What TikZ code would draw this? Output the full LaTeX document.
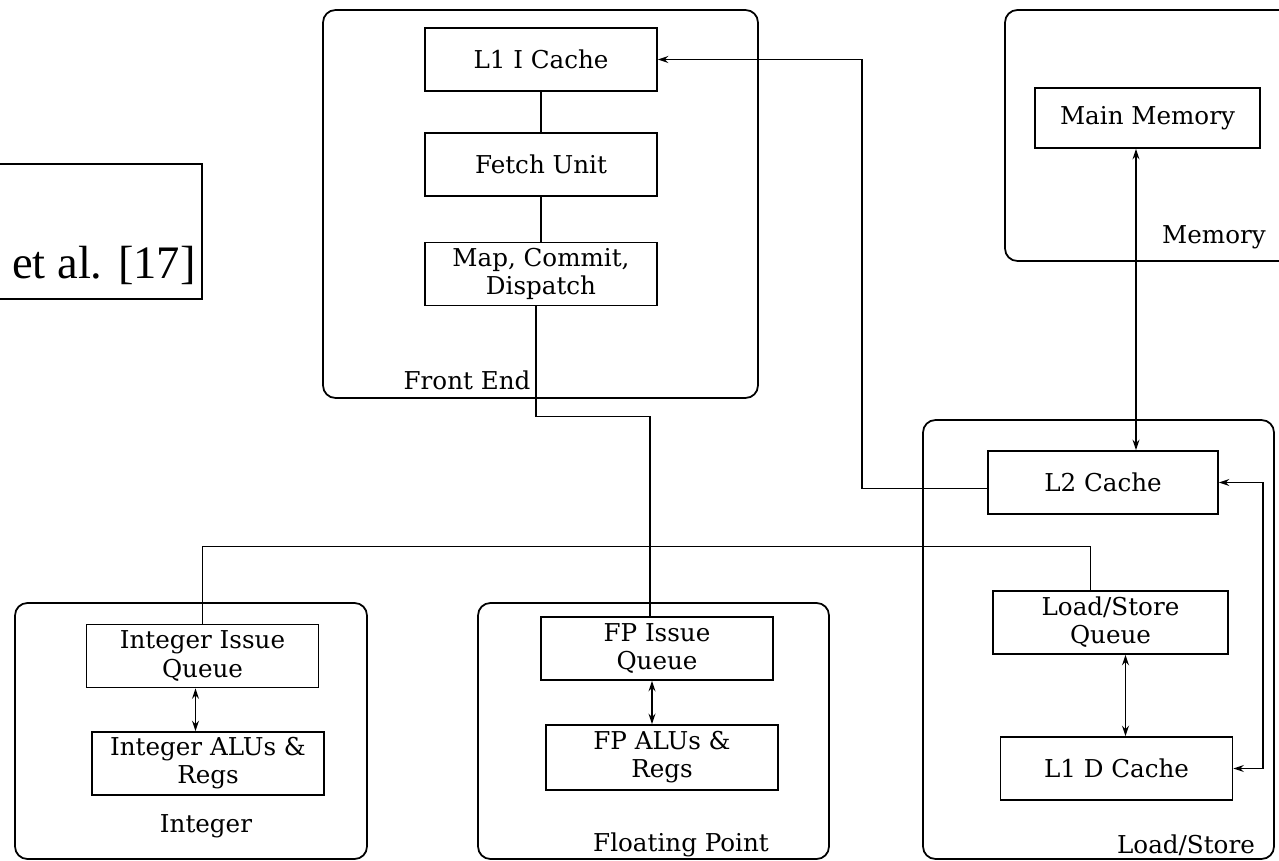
\documentclass[tikz,border=0pt]{standalone}
\usepackage{fontspec}
\setmainfont{DejaVu Serif}
\newfontfamily\citefont{Liberation Serif}
\usetikzlibrary{positioning, arrows.meta}

\begin{document}
\begin{tikzpicture}[
  x=0.02cm, y=-0.02cm,
  node distance=0.8cm and 1.8cm,
  unitBox/.style={draw, line width=1pt, minimum width=4.64cm, minimum height=1.26cm, align=center, inner sep=1pt, font=\fontsize{14}{16}\selectfont},
  groupBox/.style={draw, line width=1pt, rounded corners=7pt, inner sep=0pt},
  groupLabel/.style={font=\fontsize{14}{16}\selectfont, inner sep=0pt},
  citeBox/.style={draw, line width=1pt, inner sep=0pt},
  link/.style={line width=0.9pt},
  oneArrow/.style={link, -{Stealth[length=6pt, width=4pt]}},
  arrow/.style={link, {Stealth[length=6pt, width=4pt]}-{Stealth[length=6pt, width=4pt]}}
]
\useasboundingbox (0,0) rectangle (1279,861);
\clip (0,0) rectangle (1279,861);

% Citation box
\node[citeBox, anchor=north east, minimum width=5cm, minimum height=2.7cm] (citeFrame) at (203,163) {};
\node[font=\citefont\fontsize{26.5}{32}\selectfont, anchor=base east, inner sep=0pt] (cite) at (196,279) {et al. [17]};

% Groups
\node[groupBox, minimum width=8.7cm, minimum height=7.76cm] (groupFront) at (540.5,204) {};
\node[groupLabel] at (467,380) {Front End};

\node[groupBox, minimum width=5.9cm, minimum height=5.02cm] (groupMem) at (1152.5,135.5) {};
\node[groupLabel] at (1214,237) {Memory};

\node[groupBox, minimum width=7.02cm, minimum height=8.78cm] (groupLS) at (1098.5,639.5) {};
\node[groupLabel] at (1186,845) {Load/Store};

\node[groupBox, minimum width=7.04cm, minimum height=5.12cm] (groupInt) at (191,731) {};
\node[groupLabel] at (206,826) {Integer};

\node[groupBox, minimum width=7.02cm, minimum height=5.12cm] (groupFP) at (653.5,731) {};
\node[groupLabel] at (681,845) {Floating Point};

% Front end
\node[unitBox] (l1i) at (541,59.5) {L1 I Cache};
\node[unitBox, below=of l1i] (fetch) {Fetch Unit};
\node[unitBox, below=0.9cm of fetch] (mcd) {Map, Commit,\\Dispatch};

% Memory
\node[unitBox, minimum width=4.5cm, minimum height=1.2cm] (mm) at (1147.5,118) {Main Memory};

% Load/Store
\node[unitBox, minimum width=4.6cm] (l2) at (1103,482.5) {L2 Cache};
\node[unitBox, minimum width=4.7cm] (lsq) at (1110.5,622.5) {Load/Store\\Queue};
\node[unitBox] (l1d) at (1116.5,768.5) {L1 D Cache};

% Integer
\node[unitBox] (iiq) at (202.5,656) {Integer Issue\\Queue};
\node[unitBox] (ialu) at (208,763.5) {Integer ALUs \&\\Regs};

% Floating point
\node[unitBox] (fpiq) at (657,648.5) {FP Issue\\Queue};
\node[unitBox, minimum height=1.3cm] (fpalu) at (662,757.5) {FP ALUs \&\\Regs};

% Connections
\draw[link] (l1i) -- (fetch);
\draw[link] (fetch) -- (mcd);
\draw[link] ([xshift=-0.1cm]mcd.south) -- ++(0,110) -| ([xshift=-0.14cm]fpiq.north);
\draw[link] (iiq.north) -- ++(0,-77) -| ([xshift=-0.4cm]lsq.north);

\draw[oneArrow] ([yshift=-0.12cm]l2.west) -- ++(-125,0) |- (l1i.east);
\draw[arrow] ([xshift=0.66cm]l2.north) -- ([xshift=0.66cm]l2.north |- mm.south);
\draw[arrow] (l2.east) -- ++(44,0) |- (l1d.east);
\draw[arrow] ([xshift=0.3cm]lsq.south) -- ([xshift=0.3cm]lsq.south |- l1d.north);

\draw[arrow] ([xshift=-0.14cm]iiq.south) -- ([xshift=-0.14cm]iiq.south |- ialu.north);
\draw[arrow] ([xshift=-0.1cm]fpiq.south) -- ([xshift=-0.1cm]fpiq.south |- fpalu.north);

\end{tikzpicture}
\end{document}
